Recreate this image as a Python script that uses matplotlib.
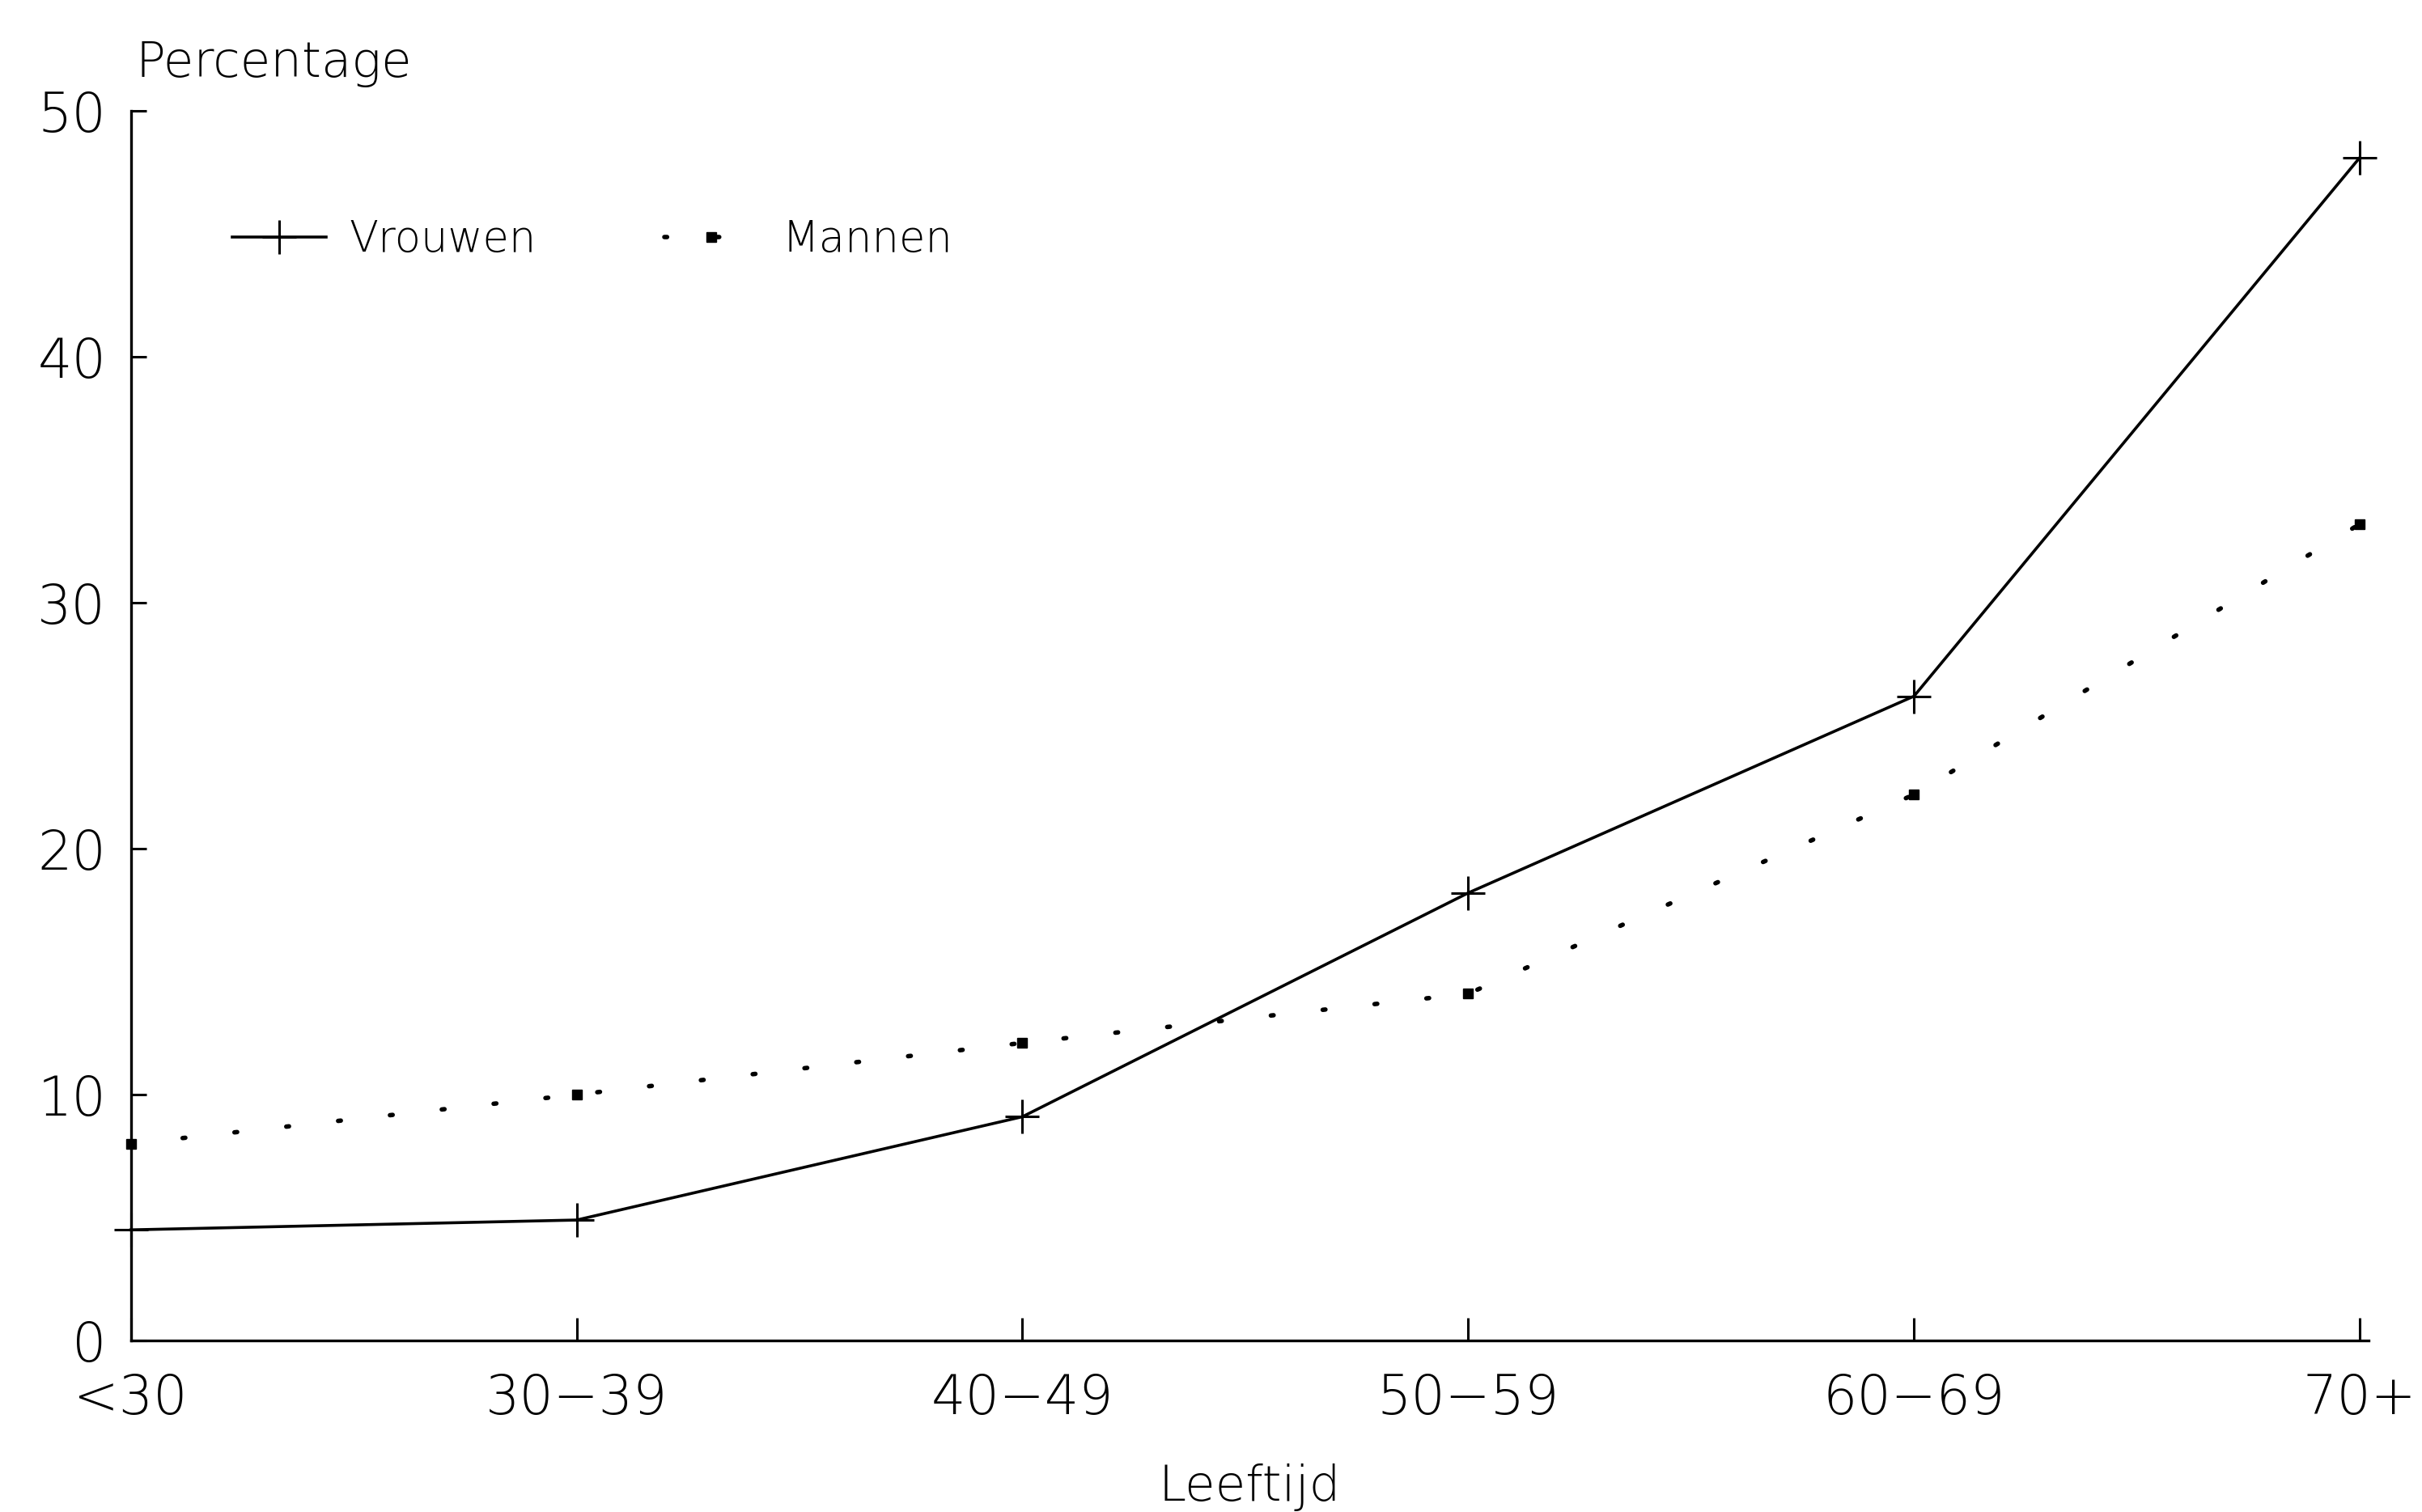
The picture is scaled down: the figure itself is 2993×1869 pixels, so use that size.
import matplotlib.pyplot as plt
import numpy as np

leeftijd = ['<30', '30\u221239', '40\u221249', '50\u221259', '60\u221269', '70+']
vrouwen = [4.5, 4.9, 9.1, 18.2, 26.2, 48.1]
mannen = [8.0, 10.0, 12.1, 14.1, 22.2, 33.2]

plt.rcParams['font.family'] = ['DejaVu Sans']

fig = plt.figure(figsize=(29.93, 18.69), dpi=100)
ax = fig.add_axes([0.054, 0.1134, 0.924, 0.8133])

x = np.arange(len(leeftijd))
ax.plot(x, vrouwen, color='black', linewidth=2.6, marker='+', markersize=30,
        markeredgewidth=2.2, label='Vrouwen', clip_on=False)
ax.plot(x, mannen, color='black', linewidth=4, linestyle=(0, (0.6, 11)),
        dash_capstyle='round', marker='s', markersize=8, label='Mannen',
        clip_on=False)

ax.set_xlim(0, 5.02)
ax.set_ylim(0, 50)
ax.set_xticks(x)
ax.set_xticklabels(leeftijd)
ax.set_yticks([0, 10, 20, 30, 40, 50])

for s in ['top', 'right']:
    ax.spines[s].set_visible(False)
for s in ['left', 'bottom']:
    ax.spines[s].set_linewidth(2.4)

ax.tick_params(axis='both', direction='in', width=2.2, labelsize=48, colors='black')
ax.tick_params(axis='y', length=14, pad=22)
ax.tick_params(axis='x', length=20, pad=28)
for lab in ax.get_xticklabels() + ax.get_yticklabels():
    lab.set_fontweight('light')

ax.set_xlabel('Leeftijd', fontsize=44, fontweight='light', labelpad=34)
fig.text(0.056, 0.958, 'Percentage', fontsize=44, fontweight='light', va='center', ha='left')

ax.legend(loc='center left', bbox_to_anchor=(0.028, 0.895), ncol=2, frameon=False,
          handlelength=2.2, columnspacing=3, handletextpad=0.55,
          prop={'size': 38, 'weight': 'light'})

fig.savefig('out.png', dpi=100, facecolor='white')
